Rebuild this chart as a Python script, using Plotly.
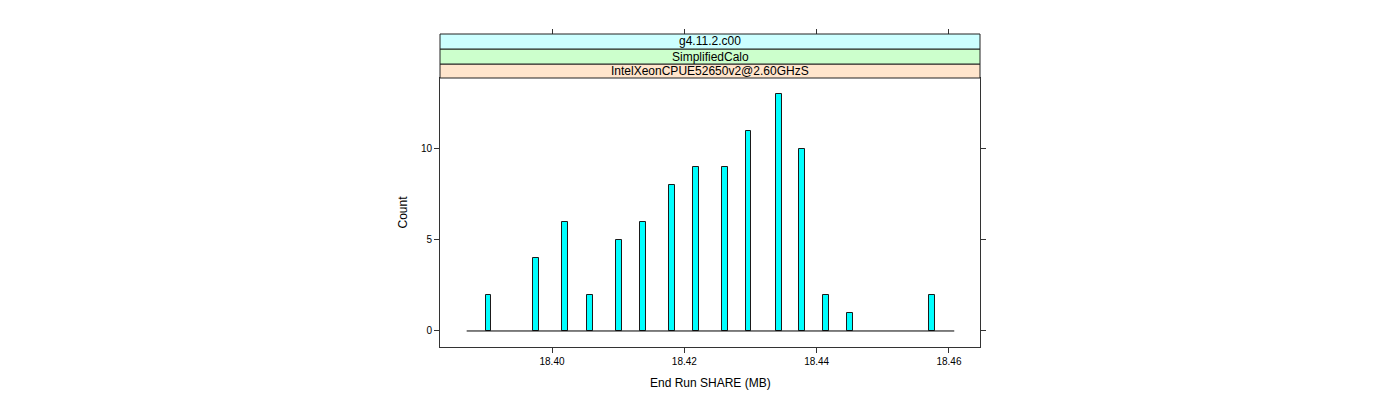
import plotly.graph_objects as go

# Data
share_mb = [18.3904, 18.3976, 18.4020, 18.4057, 18.4101, 18.4137, 18.4181, 18.4217,
            18.4262, 18.4297, 18.4343, 18.4378, 18.4414, 18.4450, 18.4575]
counts = [2, 4, 6, 2, 5, 6, 8, 9, 9, 11, 13, 10, 2, 1, 2]
x_ticks = [18.40, 18.42, 18.44, 18.46]
x_tick_labels = ["18.40", "18.42", "18.44", "18.46"]
y_ticks = [0, 5, 10]
strip_labels = ["IntelXeonCPUE52650v2@2.60GHzS", "SimplifiedCalo", "g4.11.2.c00"]
strip_colors = ["#ffe5cc", "#ccffcc", "#ccffff"]

FONT = "Liberation Sans, Arial, Helvetica, sans-serif"

pad = 0.0033
base_x = [min(share_mb) - pad, max(share_mb) + pad]
x_range = [18.38307, 18.46469]
y_range = [-0.88, 13.9]

fig = go.Figure()
fig.add_trace(go.Scatter(x=base_x, y=[0, 0], mode="lines",
                         line=dict(color="black", width=1),
                         showlegend=False, hoverinfo="skip"))
fig.add_trace(go.Bar(x=share_mb, y=counts, width=0.0009,
                     marker=dict(color="#00ffff", line=dict(color="#1a1a1a", width=1)),
                     showlegend=False))
# invisible trace for top tick axis
fig.add_trace(go.Scatter(x=[x_ticks[0]], y=[0], xaxis="x2", mode="markers",
                         marker=dict(opacity=0), showlegend=False, hoverinfo="skip"))

panel_top = (347 - 78) / 313.0
strip_bounds = [((347 - 78) / 313.0, (347 - 64) / 313.0),
                ((347 - 64) / 313.0, (347 - 49) / 313.0),
                ((347 - 49) / 313.0, 1.0)]

shapes = []
annotations = []
for (y0, y1), lab, col in zip(strip_bounds, strip_labels, strip_colors):
    shapes.append(dict(type="rect", xref="paper", yref="paper", x0=0, x1=1, y0=y0, y1=y1,
                       fillcolor=col, line=dict(color="#222222", width=1), layer="above"))
    annotations.append(dict(text=lab, xref="paper", yref="paper", x=0.5, y=(y0 + y1) / 2,
                            showarrow=False, font=dict(family=FONT, size=12, color="black"),
                            xanchor="center", yanchor="middle"))

annotations.append(dict(text="Count", xref="paper", yref="paper", x=0, y=panel_top / 2,
                        xshift=-38, textangle=-90, showarrow=False,
                        font=dict(family=FONT, size=12, color="black"),
                        xanchor="center", yanchor="middle"))
annotations.append(dict(text="End Run SHARE (MB)", xref="paper", yref="paper", x=0.5, y=0,
                        yshift=-36, showarrow=False,
                        font=dict(family=FONT, size=12, color="black"),
                        xanchor="center", yanchor="middle"))

fig.update_layout(
    width=1400, height=400,
    margin=dict(l=432, r=428, t=26, b=61),
    paper_bgcolor="white", plot_bgcolor="white",
    bargap=0,
    shapes=shapes,
    annotations=annotations,
    xaxis=dict(range=x_range, tickvals=x_ticks, ticktext=x_tick_labels,
               showgrid=False, zeroline=False, showline=True, linecolor="#333333",
               linewidth=1, mirror=True, ticks="outside", ticklen=5, tickcolor="#333333",
               tickfont=dict(family=FONT, size=10, color="black")),
    xaxis2=dict(range=x_range, tickvals=x_ticks, overlaying="x", anchor="free",
                position=1.0, side="top", showticklabels=False, showgrid=False,
                zeroline=False, showline=False, ticks="outside", ticklen=5,
                tickcolor="#333333"),
    yaxis=dict(range=y_range, tickvals=y_ticks, domain=[0, panel_top],
               showgrid=False, zeroline=False, showline=True, linecolor="#333333",
               linewidth=1, mirror="ticks", ticks="outside", ticklen=5,
               tickcolor="#333333",
               tickfont=dict(family=FONT, size=10, color="black")),
)

fig.write_html("out.html")
